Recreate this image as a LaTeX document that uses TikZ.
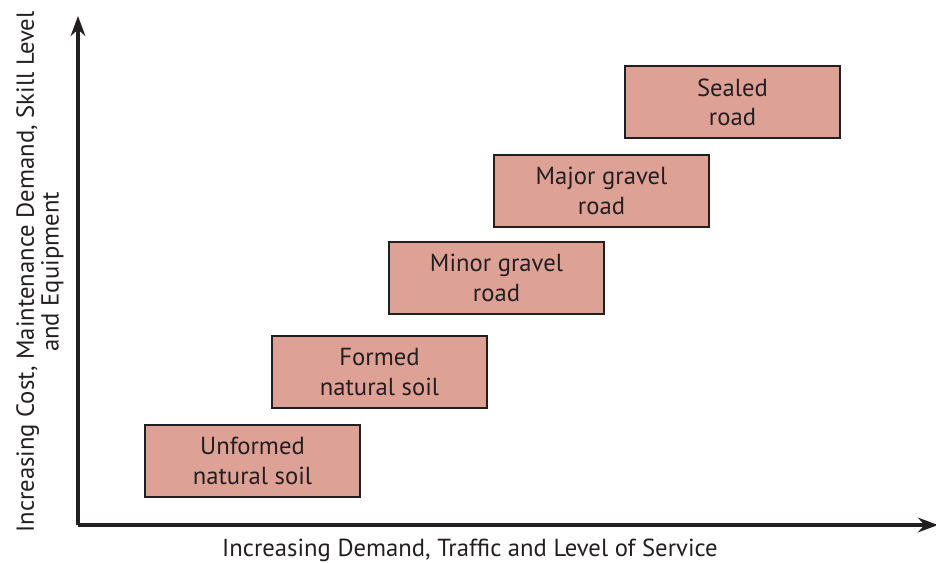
\documentclass[tikz,border=0pt]{standalone}
\usepackage{fontspec}
\setmainfont{PT Sans}
\usetikzlibrary{arrows.meta}

\definecolor{boxfill}{HTML}{DEA196}
\definecolor{inkline}{HTML}{231F20}

\tikzset{
  roadbox/.style = {shape = rectangle, draw = inkline, fill = boxfill, line width = 1.5pt,
                    minimum width = 161pt, minimum height = 54pt, align = center,
                    font = \fontsize{18.5}{22}\selectfont, text = inkline},
  axisline/.style = {line width = 2.4pt, draw = inkline, -{Stealth[length = 15pt, width = 11pt]}},
  axislabel/.style = {align = center, font = \fontsize{18.5}{18.5}\selectfont, text = inkline}
}

\begin{document}
\begin{tikzpicture}[x = 0.75pt, y = -0.75pt]
        \useasboundingbox (0, 0) rectangle (936, 563);

        % ------------------------------------------------------------------------
        % Axes
        \coordinate (o) at (78, 525);
        \coordinate (top) at (78, 16);
        \coordinate (right) at (938, 525);

        \draw[axisline] (o) -- (top);
        \draw[axisline] (o) -- (right);

        \node[axislabel, rotate = 90] at (40, 272) (ylab)
          {Increasing Cost, Maintenance Demand, Skill Level\\and Equipment};
        \node[axislabel] at (470, 550) (xlab)
          {Increasing Demand, Traffic and Level of Service};

        % ------------------------------------------------------------------------
        % Road types
        \node[roadbox] at (252.5, 461) (unformed) {Unformed\\natural soil};
        \node[roadbox] at (379.5, 372) (formed)   {Formed\\natural soil};
        \node[roadbox] at (496.5, 278) (minor)    {Minor gravel\\road};
        \node[roadbox] at (601.5, 191) (major)    {Major gravel\\road};
        \node[roadbox] at (732.5, 102.5) (sealed) {Sealed\\road};
      \end{tikzpicture}
\end{document}
